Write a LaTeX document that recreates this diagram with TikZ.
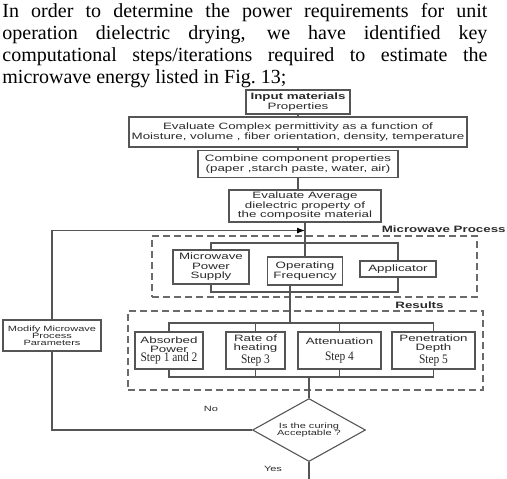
\documentclass[tikz,border=0pt]{standalone}
\usepackage{fontspec}
\setmainfont{Liberation Serif}
\newfontfamily\wideflow[FakeStretch=1.45]{Liberation Sans}
\newfontfamily\narrowstep[FakeStretch=0.88]{Liberation Serif}
\usepackage{tikz}
\usetikzlibrary{arrows.meta, positioning, shapes.geometric}
\definecolor{linegrey}{HTML}{555555}
\definecolor{dashgrey}{HTML}{6A6A6A}
\definecolor{inkgrey}{HTML}{2A2A2A}
\newcommand{\dgfont}{\wideflow\fontsize{4.6}{4.7}\selectfont}
\newcommand{\smfont}{\wideflow\fontsize{3.8}{3.6}\selectfont}
\newcommand{\stfont}{\narrowstep\fontsize{6.5}{6.5}\selectfont}

\begin{document}
\begin{tikzpicture}[x=0.5pt, y=-0.5pt,
  box/.style={rectangle, draw=linegrey, line width=0.55pt, fill=white, text=inkgrey,
              align=center, inner sep=1pt, font=\dgfont},
  grp/.style={rectangle, draw=dashgrey, line width=0.55pt, dash pattern=on 3.5pt off 2pt},
  bus/.style={draw=linegrey, line width=0.55pt},
  ed/.style={-{Latex[length=4pt, width=3pt, color=black]}, line width=0.55pt, draw=linegrey},
  lbl/.style={font=\dgfont\bfseries, text=inkgrey, inner sep=0pt},
  note/.style={font=\smfont, text=inkgrey, inner sep=0pt}]
\useasboundingbox (0,0) rectangle (507,478);
% text above the figure
\node[anchor=north west, inner sep=0pt, text width=242.5pt, align=justify,
      font=\fontsize{10}{11}\selectfont] (intro) at (2,3)
  {In order to determine the power requirements for unit\linebreak
   operation dielectric drying, we have identified key\linebreak
   computational steps/iterations required to estimate the\linebreak
   microwave energy listed in Fig.~13;};
% dashed groups
\node[grp, minimum width=162.5pt, minimum height=30.5pt] (mwgrp) at (314.5,266.5) {};
\node[grp, minimum width=177.5pt, minimum height=39.5pt] (resgrp) at (305.5,350.5) {};
\node[lbl, anchor=east] (mwlbl) at (506,229) {Microwave Process};
\node[lbl, anchor=west] (reslbl) at (395,305) {Results};
% main column
\node[box, minimum width=52pt, minimum height=12pt] (inp) at (298,102) {\textbf{Input materials}\\Properties};
\node[box, minimum width=169pt, minimum height=15pt] (cplx) at (298,132)
  {Evaluate Complex permittivity as a function of\\Moisture, volume , fiber orientation, density, temperature};
\node[box, minimum width=100pt, minimum height=13.5pt] (comb) at (298,164)
  {Combine component properties\\(paper ,starch paste, water, air)};
\node[box, minimum width=76pt, minimum height=16pt] (avg) at (305,206)
  {Evaluate Average\\dielectric property of\\the composite material};
% microwave process
\node[box, minimum width=38pt, minimum height=17pt] (mps) at (211,267) {Microwave\\Power\\Supply};
\node[box, minimum width=37.5pt, minimum height=14pt] (freq) at (305,271) {Operating\\Frequency};
\node[box, minimum width=38pt, minimum height=8pt] (appl) at (398,269) {Applicator};
% results
\node[box, minimum width=34pt, minimum height=18.5pt] (abs) at (169,350.5) {Absorbed\\Power\\{\stfont Step 1 and 2}};
\node[box, minimum width=29.5pt, minimum height=18.5pt] (rate) at (255.5,350.5) {Rate of\\heating\\{\stfont Step 3}};
\node[box, minimum width=41.5pt, minimum height=18.5pt] (att) at (339.5,350.5) {Attenuation\\[3pt]{\stfont Step 4}};
\node[box, minimum width=41.5pt, minimum height=18.5pt] (pen) at (433.5,350.5) {Penetration\\Depth\\{\stfont Step 5}};
% decision and feedback
\node[diamond, draw=linegrey, line width=0.55pt, aspect=1.8, inner sep=0pt, text=inkgrey,
      font=\smfont, align=center, minimum width=56.5pt, minimum height=31.5pt] (cure) at (309,430)
  {Is the curing\\Acceptable ?};
\node[box, font=\smfont, minimum width=49pt, minimum height=15.5pt] (mod) at (52,335.5)
  {Modify Microwave\\Process\\Parameters};
\node[note] (nolbl) at (211,409) {No};
\node[note] (yeslbl) at (273,469) {Yes};
\coordinate (mtop) at (0,243);
\coordinate (mbot) at (0,292);
\coordinate (rtop) at (0,323);
\coordinate (rbot) at (0,377);
\coordinate (yesend) at (309,487);
% connectors
\draw[bus] (inp) -- (cplx);
\draw[bus] (cplx) -- (comb);
\draw[bus] (comb.south) -- (comb.south |- avg.north);
\draw[bus] (avg.south) -- (freq.north);
\draw[bus] (mps.north) -- (mps.north |- mtop) -- (appl.north |- mtop) -- (appl.north);
\draw[bus] (mps.south) -- (mps.south |- mbot) -- (appl.south |- mbot) -- (appl.south);
\draw[bus] ([xshift=-7.5pt]freq.south) -- ([xshift=-7.5pt]freq.south |- rtop);
\draw[bus] (abs.north) -- (abs.north |- rtop) -- (pen.north |- rtop) -- (pen.north);
\draw[bus] (rate.north) -- (rate.north |- rtop);
\draw[bus] (att.north) -- (att.north |- rtop);
\draw[bus] (abs.south) -- (abs.south |- rbot) -- (pen.south |- rbot) -- (pen.south);
\draw[bus] (rate.south) -- (rate.south |- rbot);
\draw[bus] (att.south) -- (att.south |- rbot);
\draw[bus] (cure.north |- rbot) -- (cure.north);
\draw[bus] (cure.west) -| (mod.south);
\draw[ed] (mod.north) |- ([yshift=-4pt]avg.south);
\draw[ed] (cure.south) -- (yesend);
\end{tikzpicture}
\end{document}
